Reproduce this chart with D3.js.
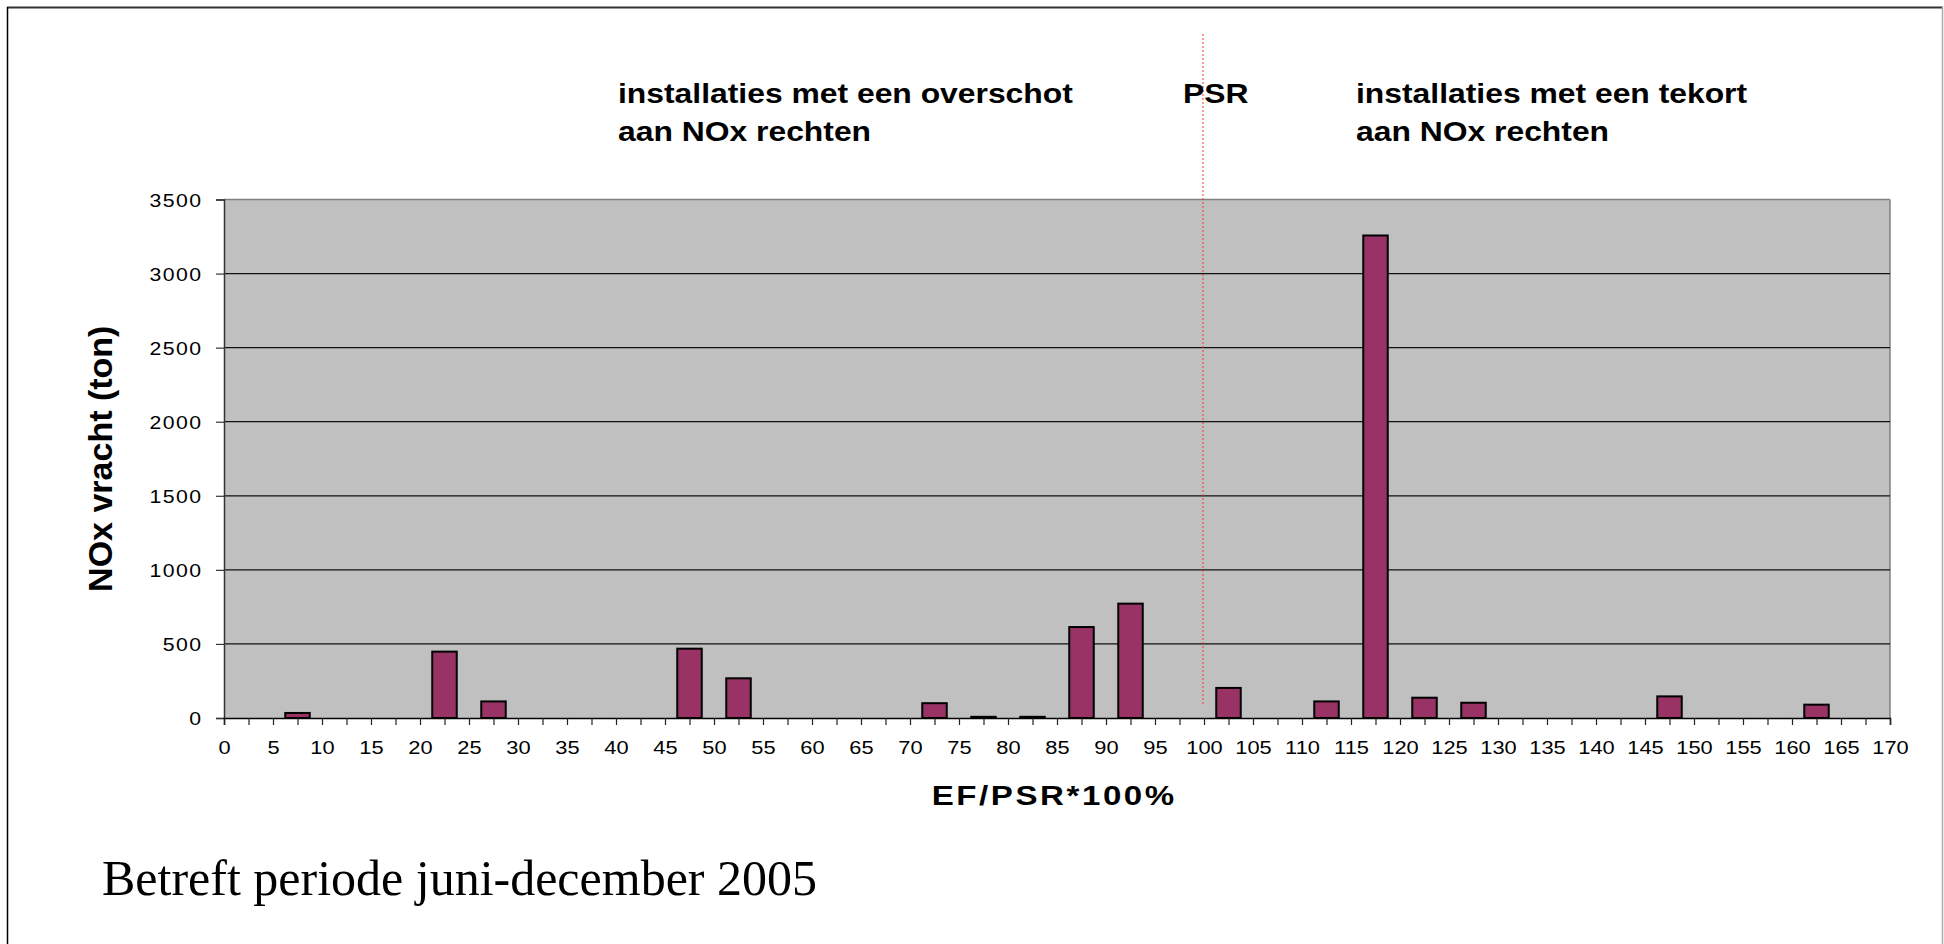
<!DOCTYPE html>
<html>
<head>
<meta charset="utf-8">
<script src="https://cdn.jsdelivr.net/npm/d3@7"></script>
<style>
  html, body { margin: 0; padding: 0; background: #fff; }
  svg { display: block; }
</style>
</head>
<body>
<script>
// ---- data ----
const binCenters = [7.5, 22.5, 27.5, 47.5, 52.5, 72.5, 77.5, 82.5, 87.5, 92.5, 102.5, 112.5, 117.5, 122.5, 127.5, 147.5, 162.5];
const noxValues  = [34, 448, 112, 468, 268, 100, 8, 8, 614, 772, 203, 112, 3257, 137, 103, 146, 90];
const binWidth = 2.5;
const xTickValues = d3.range(0, 170.001, 2.5);
const xLabelStep = 5;
const yTickValues = [0, 500, 1000, 1500, 2000, 2500, 3000, 3500];
const psrValue = 100;
const titleLeft = ["installaties met een overschot", "aan NOx rechten"];
const titleRight = ["installaties met een tekort", "aan NOx rechten"];
const psrLabel = "PSR";
const yAxisTitle = "NOx vracht (ton)";
const xAxisTitle = "EF/PSR*100%";
const footnote = "Betreft periode juni-december 2005";

// ---- layout ----
const W = 1944, H = 944;
const L = 224, R = 1890, T = 199.5, B = 718;
const SX = 1.18; // horizontal stretch of the chart text

const svg = d3.select("body").append("svg").attr("width", W).attr("height", H);

// outer frame
svg.append("line").attr("x1", 7).attr("x2", 1943).attr("y1", 7.5).attr("y2", 7.5).attr("stroke", "#333").attr("stroke-width", 2);
svg.append("line").attr("x1", 7.5).attr("x2", 7.5).attr("y1", 7).attr("y2", H).attr("stroke", "#000").attr("stroke-width", 1.5);
svg.append("line").attr("x1", 1942.5).attr("x2", 1942.5).attr("y1", 7).attr("y2", H).attr("stroke", "#aaa").attr("stroke-width", 1.5);

const x = d3.scaleLinear().domain([0, 170]).range([L, R]);
const y = d3.scaleLinear().domain([0, 3500]).range([B, T]);

// plot background
svg.append("rect").attr("x", L).attr("y", T).attr("width", R - L).attr("height", B - T).attr("fill", "#c0c0c0");
// top and right border of plot area
svg.append("line").attr("x1", L).attr("x2", R).attr("y1", T).attr("y2", T).attr("stroke", "#808080").attr("stroke-width", 1.5);
svg.append("line").attr("x1", R).attr("x2", R).attr("y1", T).attr("y2", B).attr("stroke", "#808080").attr("stroke-width", 1.5);

// gridlines
svg.append("g").selectAll("line").data(yTickValues.filter(v => v > 0 && v < 3500)).join("line")
  .attr("x1", L).attr("x2", R).attr("y1", d => y(d)).attr("y2", d => y(d))
  .attr("stroke", "#111").attr("stroke-width", 1.2);

// bars
const data = binCenters.map((c, i) => ({ c, v: noxValues[i] }));
svg.append("g").selectAll("rect").data(data).join("rect")
  .attr("x", d => x(d.c - binWidth / 2))
  .attr("width", d => x(d.c + binWidth / 2) - x(d.c - binWidth / 2))
  .attr("y", d => y(d.v))
  .attr("height", d => y(0) - y(d.v))
  .attr("fill", "#993366").attr("stroke", "#000").attr("stroke-width", 2);

// y axis
const yAxis = svg.append("g").attr("transform", `translate(${L},0)`)
  .call(d3.axisLeft(y).tickValues(yTickValues).tickSize(8).tickFormat(d3.format("d")));
yAxis.select(".domain").attr("stroke", "#333").attr("stroke-width", 1.5);
yAxis.selectAll(".tick line").attr("stroke", "#333").attr("stroke-width", 1.2);
yAxis.selectAll(".tick text")
  .attr("x", null).attr("dy", null)
  .attr("transform", `translate(${-23 + 1.2 * SX},6.5) scale(${SX},1)`)
  .attr("font-family", "'Liberation Sans', Arial, sans-serif")
  .attr("font-size", 18).attr("letter-spacing", 1.2).attr("fill", "#000");

// x axis
const xAxis = svg.append("g").attr("transform", `translate(0,${B})`)
  .call(d3.axisBottom(x).tickValues(xTickValues).tickSize(7)
    .tickFormat(d => (Math.abs(d % xLabelStep) < 1e-9 ? d3.format("d")(d) : "")));
xAxis.select(".domain").attr("stroke", "#000").attr("stroke-width", 1.5);
xAxis.selectAll(".tick line").attr("stroke", "#222").attr("stroke-width", 1.2);
xAxis.selectAll(".tick text")
  .attr("y", null).attr("dy", null)
  .attr("transform", `translate(0,36) scale(${SX},1)`)
  .attr("font-family", "'Liberation Sans', Arial, sans-serif")
  .attr("font-size", 18.5).attr("fill", "#000");

// PSR dotted line
svg.append("line").attr("x1", x(psrValue) - 1).attr("x2", x(psrValue) - 1).attr("y1", 34).attr("y2", 706)
  .attr("stroke", "#ff3030").attr("stroke-width", 1).attr("stroke-dasharray", "2,2");

// header texts
function stretchedText(tx, ty, str, size, opts = {}) {
  return svg.append("text")
    .attr("transform", `translate(${tx},${ty}) scale(${SX},1)`)
    .attr("font-family", "'Liberation Sans', Arial, sans-serif")
    .attr("font-weight", opts.weight || "bold")
    .attr("font-size", size)
    .attr("text-anchor", opts.anchor || "start")
    .attr("letter-spacing", opts.ls || 0)
    .attr("fill", "#000")
    .text(str);
}
titleLeft.forEach((s, i) => stretchedText(618, 102.7 + i * 38.5, s, 27));
titleRight.forEach((s, i) => stretchedText(1356, 102.7 + i * 38.5, s, 27));
stretchedText(1183, 102.7, psrLabel, 27);

// axis titles
stretchedText(1053 + 1.2, 805, xAxisTitle, 28, { anchor: "middle", ls: 2.2 });
svg.append("text")
  .attr("transform", `translate(112,${(T + B) / 2}) rotate(-90)`)
  .attr("font-family", "'Liberation Sans', Arial, sans-serif")
  .attr("font-weight", "bold").attr("font-size", 34).attr("text-anchor", "middle")
  .attr("fill", "#000").text(yAxisTitle);

// footnote
svg.append("text").attr("x", 102).attr("y", 895)
  .attr("font-family", "'Liberation Serif', 'Times New Roman', serif")
  .attr("font-size", 50).attr("fill", "#000").text(footnote);
</script>
</body>
</html>
